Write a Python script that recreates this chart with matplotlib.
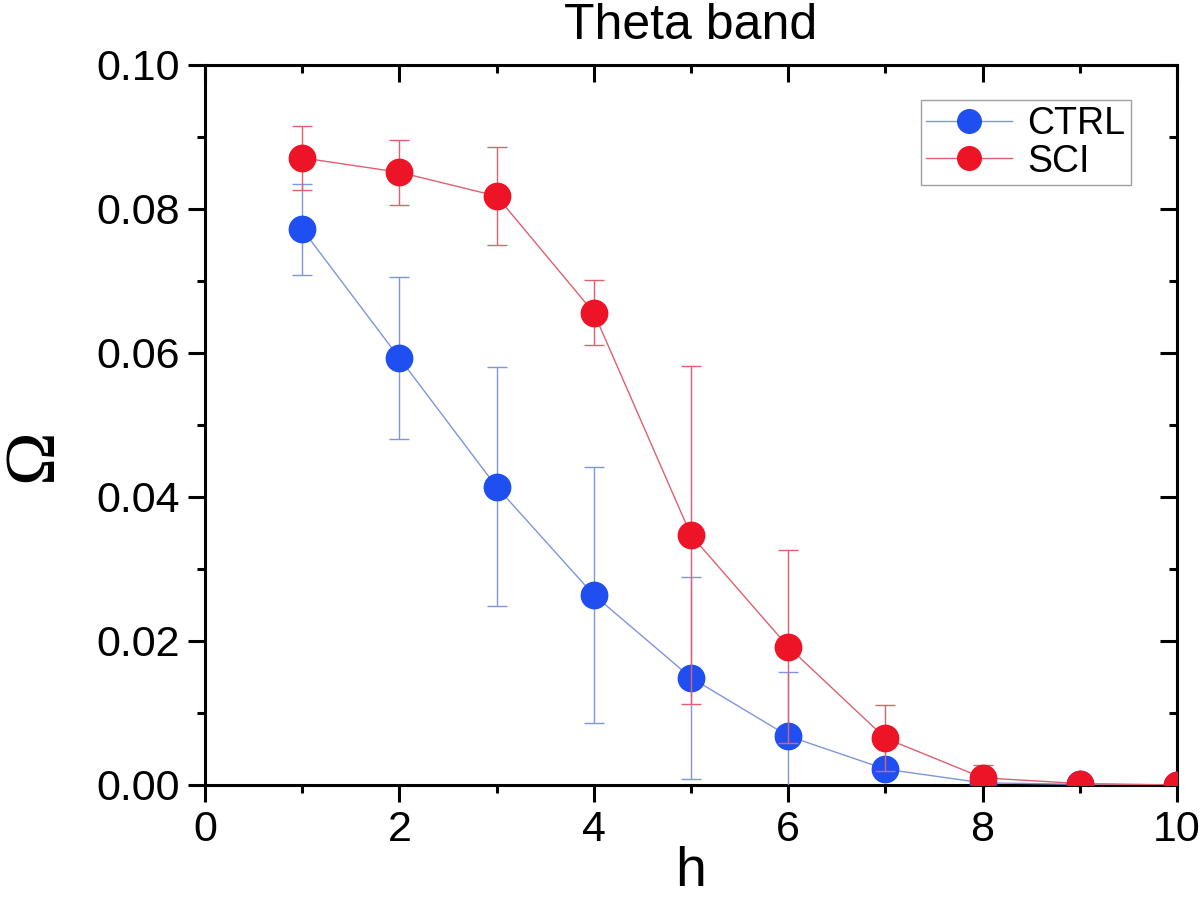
import matplotlib
matplotlib.use("Agg")
import matplotlib.pyplot as plt
from matplotlib.ticker import MultipleLocator
from matplotlib.lines import Line2D

h = [1, 2, 3, 4, 5, 6, 7, 8, 9, 10]
ctrl = [0.0772, 0.0593, 0.0414, 0.0264, 0.0149, 0.0068, 0.0022, 0.0003, 0.0001, 0.0]
ctrl_err = [0.0063, 0.0113, 0.0166, 0.0178, 0.0140, 0.0089, 0.0010, 0.0003, 0.0001, 0.0]
sci = [0.0871, 0.0851, 0.0818, 0.0656, 0.0347, 0.0192, 0.0065, 0.0010, 0.0002, 0.0]
sci_err = [0.0044, 0.0045, 0.0068, 0.0045, 0.0235, 0.0134, 0.0046, 0.0018, 0.0002, 0.0]

plt.rcParams['font.family'] = ['Liberation Sans', 'DejaVu Sans']

fig = plt.figure(figsize=(12, 9), dpi=100)
ax = fig.add_axes([205/1200, 1-785/900, (1177-205)/1200, (785-65)/900])

blue = '#1f4ff0'
red = '#ee1427'
blue_l = '#7f95dc'
red_l = '#e0606e'

ax.errorbar(h, ctrl, yerr=ctrl_err, color=blue_l, lw=1.0, elinewidth=1.0,
            capsize=7, capthick=1.0, marker='o', ms=19, mfc=blue, mec=blue,
            zorder=3)
ax.errorbar(h, sci, yerr=sci_err, color=red_l, lw=1.0, elinewidth=1.0,
            capsize=7, capthick=1.0, marker='o', ms=19, mfc=red, mec=red,
            zorder=4)

ax.set_xlim(0, 10)
ax.set_ylim(0, 0.10)
ax.xaxis.set_major_locator(MultipleLocator(2))
ax.xaxis.set_minor_locator(MultipleLocator(1))
ax.yaxis.set_major_locator(MultipleLocator(0.02))
ax.yaxis.set_minor_locator(MultipleLocator(0.01))
ax.set_yticks([0, 0.02, 0.04, 0.06, 0.08, 0.10])
ax.set_yticklabels(['0.00', '0.02', '0.04', '0.06', '0.08', '0.10'])

for s in ax.spines.values():
    s.set_linewidth(2.2)

ax.tick_params(axis='both', which='major', labelsize=31, width=2.2, length=12,
               direction='out', pad=6)
ax.tick_params(axis='both', which='minor', width=2.2, length=6, direction='out')
ax.tick_params(top=True, right=True, which='both')
for t in ax.xaxis.get_major_ticks() + ax.xaxis.get_minor_ticks():
    t.tick2line.set_marker(3)
for t in ax.yaxis.get_major_ticks() + ax.yaxis.get_minor_ticks():
    t.tick2line.set_marker(0)

handles = [
    Line2D([], [], color=blue_l, lw=1.0, marker='o', ms=17, mfc=blue, mec=blue),
    Line2D([], [], color=red_l, lw=1.0, marker='o', ms=17, mfc=red, mec=red),
]
leg = ax.legend(handles, ['CTRL', 'SCI'], loc='upper right',
                bbox_to_anchor=(926/972, 1-35/720), fontsize=27,
                frameon=True, fancybox=False, edgecolor='#888888',
                handlelength=2.3, handletextpad=0.4, borderpad=0.15,
                labelspacing=0.05, borderaxespad=0)
leg.get_frame().set_linewidth(1.0)

fig.text(691/1200, 1-26/900, 'Theta band', ha='center', va='center', fontsize=36)
fig.text(691/1200, 1-872/900, 'h', ha='center', va='center', fontsize=40)
fig.text(34/1200, 1-455/900, 'Ω', ha='center', va='center', fontsize=52,
         rotation=90, family=['Liberation Serif', 'DejaVu Serif'])

fig.savefig('out.png', dpi=100)
